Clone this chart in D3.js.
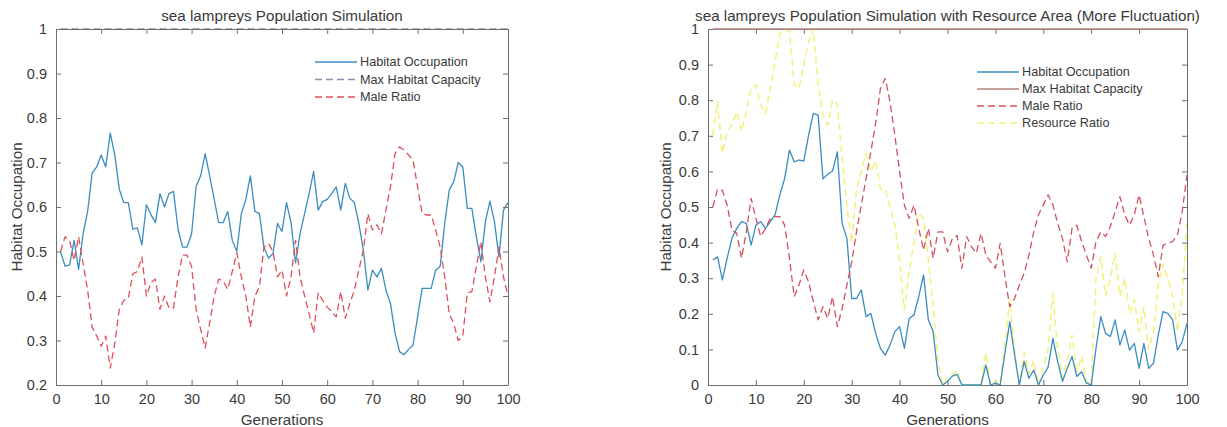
<!DOCTYPE html>
<html>
<head>
<meta charset="utf-8">
<script src="https://cdn.jsdelivr.net/npm/d3@7"></script>
<style>
  html, body { margin: 0; padding: 0; background: #fff; }
  svg { display: block; font-family: Arial, "Liberation Sans", sans-serif; }
</style>
</head>
<body>
<svg id="chart" width="1227" height="427"></svg>
<script>
// ---------- DATA ----------
const generations = d3.range(1, 101);
const xTicks = [0, 10, 20, 30, 40, 50, 60, 70, 80, 90, 100];
const leftYTicks = [0.2, 0.3, 0.4, 0.5, 0.6, 0.7, 0.8, 0.9, 1];
const rightYTicks = [0, 0.1, 0.2, 0.3, 0.4, 0.5, 0.6, 0.7, 0.8, 0.9, 1];

const leftTitle = "sea lampreys Population Simulation";
const rightTitle = "sea lampreys Population Simulation with Resource Area (More Fluctuation)";
const xLabel = "Generations";
const yLabel = "Habitat Occupation";

const leftLegend = ["Habitat Occupation", "Max Habitat Capacity", "Male Ratio"];
const rightLegend = ["Habitat Occupation", "Max Habitat Capacity", "Male Ratio", "Resource Ratio"];

const leftOccupation = [0.50,0.467,0.47,0.525,0.46,0.54,0.59,0.676,0.69,0.717,
  0.69,0.766,0.717,0.64,0.61,0.61,0.55,0.553,0.515,0.605,
  0.583,0.565,0.63,0.60,0.63,0.635,0.55,0.51,0.51,0.54,
  0.646,0.67,0.72,0.67,0.617,0.565,0.565,0.59,0.525,0.50,
  0.585,0.617,0.67,0.59,0.585,0.51,0.485,0.495,0.563,0.545,
  0.61,0.565,0.475,0.54,0.585,0.63,0.68,0.593,0.612,0.617,
  0.63,0.645,0.593,0.653,0.62,0.61,0.563,0.503,0.413,0.458,
  0.443,0.462,0.413,0.383,0.317,0.275,0.268,0.28,0.29,0.353,
  0.417,0.417,0.417,0.458,0.467,0.563,0.638,0.657,0.70,0.69,
  0.597,0.597,0.533,0.477,0.567,0.613,0.567,0.488,0.593,0.61];
const leftMaxCapacity = generations.map(() => 1);
const leftMaleRatio = [0.50,0.533,0.525,0.48,0.533,0.473,0.413,0.33,0.31,0.287,
  0.31,0.238,0.293,0.37,0.39,0.395,0.45,0.455,0.488,0.40,
  0.43,0.438,0.37,0.40,0.373,0.373,0.443,0.492,0.492,0.466,
  0.37,0.325,0.283,0.34,0.40,0.438,0.433,0.415,0.455,0.497,
  0.443,0.40,0.33,0.40,0.42,0.51,0.518,0.50,0.443,0.458,
  0.40,0.443,0.525,0.443,0.40,0.36,0.317,0.407,0.39,0.375,
  0.365,0.353,0.41,0.35,0.383,0.413,0.458,0.503,0.585,0.548,
  0.56,0.54,0.593,0.645,0.72,0.735,0.728,0.717,0.705,0.645,
  0.585,0.582,0.582,0.548,0.51,0.443,0.36,0.338,0.30,0.31,
  0.407,0.41,0.466,0.522,0.443,0.387,0.443,0.51,0.443,0.40];

const rightOccupation = [0.351,0.36,0.295,0.356,0.412,0.44,0.459,0.454,0.393,0.449,
  0.459,0.44,0.459,0.478,0.534,0.58,0.66,0.627,0.632,0.629,
  0.702,0.763,0.758,0.579,0.592,0.601,0.655,0.454,0.412,0.243,
  0.243,0.267,0.192,0.201,0.145,0.103,0.084,0.112,0.15,0.164,
  0.103,0.187,0.197,0.248,0.309,0.183,0.15,0.028,0,0.01,
  0.025,0.03,0,0,0,0,0,0.056,0,0.005,
  0,0.09,0.178,0.085,0,0.066,0.019,0.042,0,0.028,
  0.05,0.131,0.066,0.01,0.047,0.08,0.024,0.037,0.005,0,
  0.103,0.192,0.145,0.136,0.183,0.112,0.155,0.098,0.117,0.047,
  0.117,0.047,0.061,0.14,0.206,0.201,0.183,0.098,0.122,0.173];
const rightMaxCapacity = generations.map(() => 1);
const rightMaleRatio = [0.50,0.55,0.547,0.505,0.435,0.426,0.356,0.43,0.524,0.468,
  0.417,0.44,0.468,0.473,0.473,0.449,0.356,0.248,0.281,0.323,
  0.29,0.234,0.183,0.22,0.187,0.248,0.164,0.215,0.281,0.346,
  0.43,0.505,0.58,0.655,0.735,0.833,0.861,0.796,0.702,0.6,
  0.505,0.468,0.505,0.44,0.379,0.44,0.356,0.43,0.43,0.374,
  0.41,0.42,0.328,0.417,0.389,0.37,0.426,0.365,0.346,0.328,
  0.398,0.304,0.22,0.243,0.281,0.314,0.365,0.43,0.478,0.506,
  0.534,0.506,0.454,0.412,0.346,0.44,0.449,0.403,0.365,0.328,
  0.403,0.43,0.417,0.445,0.487,0.529,0.478,0.449,0.478,0.534,
  0.473,0.412,0.365,0.304,0.393,0.398,0.403,0.421,0.487,0.59];
const rightResourceRatio = [0.702,0.796,0.651,0.712,0.73,0.768,0.712,0.768,0.833,0.843,
  0.787,0.763,0.833,0.908,0.988,1.0,0.993,0.843,0.833,0.9,
  0.964,1.0,0.843,0.758,0.73,0.8,0.79,0.637,0.5,0.4,
  0.55,0.6,0.65,0.6,0.63,0.55,0.55,0.5,0.45,0.35,
  0.21,0.32,0.40,0.48,0.47,0.35,0.22,0.07,0,0.02,
  0.03,0.04,0,0,0,0,0,0.09,0,0.01,
  0,0.12,0.24,0.1,0,0.09,0.03,0.07,0,0.05,
  0.1,0.26,0.1,0.02,0.07,0.14,0.04,0.08,0.01,0,
  0.3,0.36,0.25,0.3,0.37,0.25,0.3,0.2,0.24,0.15,
  0.22,0.1,0.15,0.28,0.34,0.3,0.25,0.15,0.25,0.46];

// ---------- DRAWING ----------
const svg = d3.select("#chart");
const axisColor = "#6e6e6e";
const textColor = "#3a3a3a";

function drawPanel(cfg) {
  const { left, right, top, bottom, yDomain, yTicks, title, series, legend, id } = cfg;
  const x = d3.scaleLinear().domain([0, 100]).range([left, right]);
  const y = d3.scaleLinear().domain(yDomain).range([bottom, top]);
  const g = svg.append("g");

  g.append("defs").append("clipPath").attr("id", id)
    .append("rect").attr("x", left).attr("y", top - 1)
    .attr("width", right - left).attr("height", bottom - top + 2);

  const tickFmt = d => d3.format("")(+d.toFixed(1));
  const bottomAxis = d3.axisBottom(x).tickValues(xTicks).tickSizeInner(-5).tickSizeOuter(0).tickPadding(9).tickFormat(d3.format("d"));
  const topAxis = d3.axisTop(x).tickValues(xTicks).tickSizeInner(-5).tickSizeOuter(0).tickFormat("");
  const leftAxis = d3.axisLeft(y).tickValues(yTicks).tickSizeInner(-5).tickSizeOuter(0).tickPadding(9).tickFormat(tickFmt);
  const rightAxis = d3.axisRight(y).tickValues(yTicks).tickSizeInner(-5).tickSizeOuter(0).tickFormat("");

  const drawAxes = () => {
    [
      [bottomAxis, `translate(0,${bottom})`],
      [topAxis, `translate(0,${top})`],
      [leftAxis, `translate(${left},0)`],
      [rightAxis, `translate(${right},0)`]
    ].forEach(([ax, tr]) => {
      const a = g.append("g").attr("transform", tr).call(ax);
      a.select(".domain").attr("stroke", axisColor).attr("stroke-width", 1);
      a.selectAll(".tick line").attr("stroke", axisColor);
      a.selectAll(".tick text").attr("fill", textColor).attr("font-size", 14.5)
        .attr("font-family", "Arial, 'Liberation Sans', sans-serif");
    });
  };

  if (!cfg.axesOnTop) drawAxes();

  const line = d3.line().x((d, i) => x(generations[i])).y(d => y(d));
  const plot = g.append("g").attr("clip-path", `url(#${id})`);
  series.forEach(s => {
    plot.append("path").datum(s.values)
      .attr("fill", "none")
      .attr("stroke", s.color)
      .attr("stroke-width", s.width || 1.3)
      .attr("stroke-dasharray", s.dash || null)
      .attr("stroke-linejoin", "round")
      .attr("d", line);
  });

  if (cfg.axesOnTop) drawAxes();

  g.append("text").attr("x", (left + right) / 2).attr("y", top - 8)
    .attr("text-anchor", "middle").attr("fill", textColor).attr("font-size", 15.2)
    .text(title);
  g.append("text").attr("x", (left + right) / 2).attr("y", bottom + 40)
    .attr("text-anchor", "middle").attr("fill", textColor).attr("font-size", 15.2)
    .text(xLabel);
  g.append("text")
    .attr("transform", `translate(${cfg.yLabelX},${(top + bottom) / 2}) rotate(-90)`)
    .attr("text-anchor", "middle").attr("fill", textColor).attr("font-size", 15.2)
    .text(yLabel);

  const lg = g.append("g");
  legend.names.forEach((name, i) => {
    const s = series[legend.order[i]];
    const yy = legend.y + i * legend.dy;
    lg.append("line").attr("x1", legend.x).attr("x2", legend.x + 42)
      .attr("y1", yy).attr("y2", yy)
      .attr("stroke", s.legendColor || s.color).attr("stroke-width", 1.3)
      .attr("stroke-dasharray", s.dash || null);
    lg.append("text").attr("x", legend.x + 45).attr("y", yy)
      .attr("dy", "0.35em").attr("fill", textColor).attr("font-size", 12.7)
      .text(name);
  });
}

drawPanel({
  id: "clipL", left: 56, right: 508, top: 29, bottom: 385, axesOnTop: true,
  yDomain: [0.2, 1], yTicks: leftYTicks, title: leftTitle, yLabelX: 22,
  series: [
    { values: leftOccupation, color: "#3b8dc0" },
    { values: leftMaxCapacity, color: "#8c8cae", dash: "7,4" },
    { values: leftMaleRatio, color: "#e0505a", dash: "7,4" }
  ],
  legend: { names: leftLegend, order: [0, 1, 2], x: 315, y: 62, dy: 17.5 }
});

drawPanel({
  id: "clipR", left: 708, right: 1187, top: 29, bottom: 385, axesOnTop: false,
  yDomain: [0, 1], yTicks: rightYTicks, title: rightTitle, yLabelX: 671,
  series: [
    { values: rightResourceRatio, color: "#f2f27a", dash: "7,4", width: 1.5 },
    { values: rightOccupation, color: "#3b8dc0" },
    { values: rightMaxCapacity, color: "#b88078" },
    { values: rightMaleRatio, color: "#d2525e", dash: "7,4" }
  ],
  legend: { names: rightLegend, order: [1, 2, 3, 0], x: 977, y: 72, dy: 17 }
});
</script>
</body>
</html>
